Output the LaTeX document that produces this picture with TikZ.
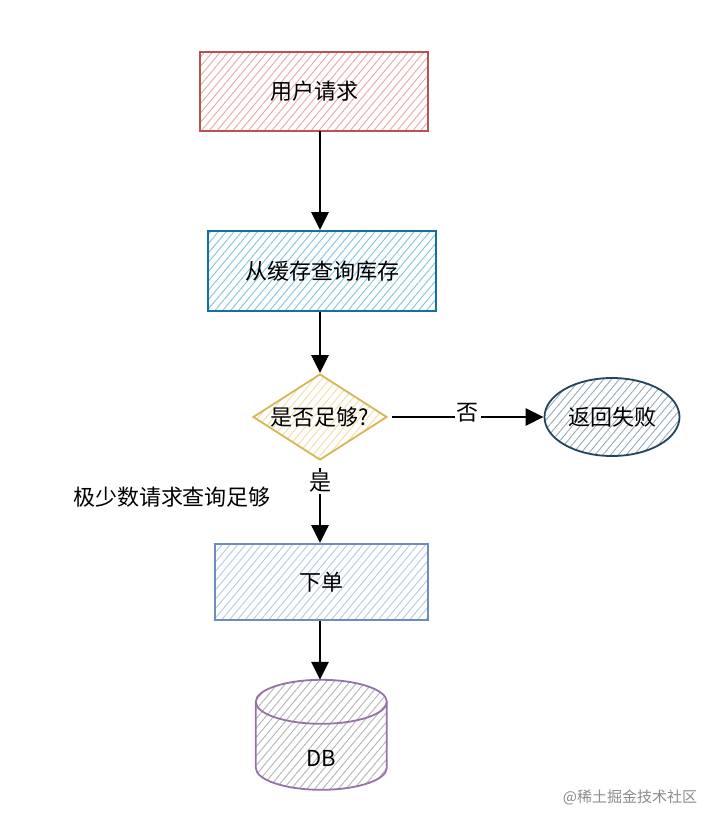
\documentclass[tikz,border=0pt]{standalone}
\usepackage{fontspec}
\setmainfont{Noto Sans CJK SC}
\usetikzlibrary{arrows.meta,patterns.meta,shapes.geometric}
\begin{document}
\begin{tikzpicture}[x=1pt,y=-1pt,
  lbl/.style={font=\fontsize{22}{26}\selectfont, text=black},
  boxbase/.style={draw, line width=1.8pt, inner sep=0pt, lbl},
  conn/.style={line width=2.8pt, -{Triangle[length=18pt,width=17pt]}},
  redbox/.style={boxbase, draw={rgb,255:red,184;green,84;blue,80}, pattern={Lines[angle=50,distance=6pt,line width=0.9pt]}, pattern color={rgb,255:red,240;green,165;blue,165}},
  bluebox/.style={boxbase, draw={rgb,255:red,16;green,115;blue,158}, pattern={Lines[angle=50,distance=6pt,line width=0.9pt]}, pattern color={rgb,255:red,130;green,195;blue,228}},
  lblue/.style={boxbase, draw={rgb,255:red,108;green,142;blue,191}, pattern={Lines[angle=50,distance=6pt,line width=0.9pt]}, pattern color={rgb,255:red,180;green,200;blue,235}},
  ]
\useasboundingbox (0,0) rectangle (720,828);
\fill[white] (0,0) rectangle (720,828);

\node[redbox, minimum width=228pt, minimum height=79pt] (req) at (314,91.5) {};
\node[lbl] at (req) {用户请求};

\node[bluebox, minimum width=228pt, minimum height=80pt] (cache) at (322,271) {};
\node[lbl] at (cache) {从缓存查询库存};

\node[diamond, draw={rgb,255:red,214;green,182;blue,86}, line width=1.8pt, minimum width=134pt, minimum height=86pt, inner sep=0pt, pattern={Lines[angle=50,distance=6pt,line width=0.9pt]}, pattern color={rgb,255:red,242;green,222;blue,165}] (dec) at (320,417) {};
\node[lbl] at (dec) {是否足够?};

\node[ellipse, draw={rgb,255:red,35;green,68;blue,93}, line width=1.8pt, minimum width=135pt, minimum height=78pt, inner sep=0pt, pattern={Lines[angle=50,distance=6pt,line width=0.9pt]}, pattern color={rgb,255:red,150;green,170;blue,185}] (fail) at (612,417) {};
\node[lbl] at (fail) {返回失败};

\node[lblue, minimum width=213pt, minimum height=76pt] (order) at (321.5,582) {};
\node[lbl] at (order) {下单};

% DB cylinder
\node[minimum width=131pt, minimum height=110pt, inner sep=0pt] (db) at (321.5,735) {};
\begin{scope}[draw={rgb,255:red,150;green,115;blue,166}, line width=1.8pt]
  \fill[pattern={Lines[angle=50,distance=6pt,line width=0.9pt]}, pattern color={rgb,255:red,180;green,180;blue,180}]
    (db.north west) ++(0,22) arc[start angle=180, end angle=0, x radius=65.5pt, y radius=22pt]
    -- ++(0,66) arc[start angle=0, end angle=-180, x radius=65.5pt, y radius=22pt] -- cycle;
  \draw (db.north west) ++(0,22) arc[start angle=180, end angle=-180, x radius=65.5pt, y radius=22pt];
  \draw (db.north west) ++(0,22) -- ++(0,66) arc[start angle=180, end angle=360, x radius=65.5pt, y radius=22pt] -- ++(0,-66);
\end{scope}
\node[lbl] at (321.5,758) {DB};

\draw[conn] (req.south -| 320,0) -- (cache.north -| 320,0);
\draw[conn] (cache.south -| 320,0) -- (dec.north);
\draw[conn] (dec.east) ++(4,0) coordinate (de) (de) -- node[lbl, fill=white, inner sep=2pt, yshift=4pt]{否} (fail.west);
\draw[conn] (dec.south) ++(0,7) coordinate (ds) (ds) -- node[lbl, fill=white, inner sep=1pt, pos=0.2]{是} (order.north -| 320,0);
\draw[conn] (order.south -| 320,0) -- (db.north -| 320,0);

\node[lbl] (note) at (172,497) {极少数请求查询足够};
\node[font=\fontsize{15}{18}\selectfont, text={rgb,255:red,140;green,140;blue,140}] (wm) at (630,797) {@稀土掘金技术社区};
\end{tikzpicture}
\end{document}
